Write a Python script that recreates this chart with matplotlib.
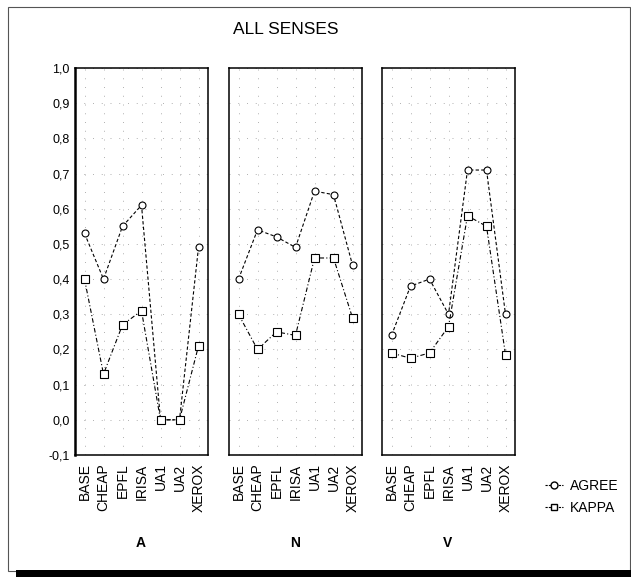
#! /usr/bin/env python3
import matplotlib
matplotlib.use('Agg')
import matplotlib.pyplot as plt
from matplotlib.lines import Line2D
from matplotlib.patches import Rectangle

categories = ['BASE', 'CHEAP', 'EPFL', 'IRISA', 'UA1', 'UA2', 'XEROX']
panels = ['A', 'N', 'V']
agree = {
    'A': [0.53, 0.40, 0.55, 0.61, 0.00, 0.00, 0.49],
    'N': [0.40, 0.54, 0.52, 0.49, 0.65, 0.64, 0.44],
    'V': [0.24, 0.38, 0.40, 0.30, 0.71, 0.71, 0.30],
}
kappa = {
    'A': [0.40, 0.13, 0.27, 0.31, 0.00, 0.00, 0.21],
    'N': [0.30, 0.20, 0.25, 0.24, 0.46, 0.46, 0.29],
    'V': [0.19, 0.175, 0.19, 0.265, 0.58, 0.55, 0.185],
}
yticks = [-0.1, 0.0, 0.1, 0.2, 0.3, 0.4, 0.5, 0.6, 0.7, 0.8, 0.9, 1.0]

NARROW = ['Liberation Sans Narrow', 'Liberation Sans', 'DejaVu Sans']
WIDE = ['Liberation Sans', 'DejaVu Sans']

W, H = 631, 577
fig = plt.figure(figsize=(W / 100, H / 100), dpi=100)


def fx(px):
    return px / W


def fy(py):
    return 1 - py / H


# outer frame and black bar at the bottom
fig.patches.append(Rectangle((fx(8), fy(571)), fx(622), 564 / H,
                             transform=fig.transFigure, fill=False,
                             edgecolor='#555555', linewidth=0.8))
fig.patches.append(Rectangle((fx(16), 0), 1 - fx(16), 7 / H,
                             transform=fig.transFigure, facecolor='black',
                             edgecolor='none'))

fig.text(fx(286), fy(30), 'ALL SENSES', ha='center', va='center',
         fontsize=12.5, family=NARROW)

lefts = [75, 229, 382]
xs = range(len(categories))
for i, (name, left) in enumerate(zip(panels, lefts)):
    ax = fig.add_axes([fx(left), fy(455), fx(133), 387 / H])
    ax.set_xlim(-0.5, len(categories) - 0.5)
    ax.set_ylim(-0.1, 1.0)
    ax.grid(True, color='#b0b0b0', linestyle=(0, (1, 8)), linewidth=0.7)
    ax.plot(xs, agree[name], color='black', linewidth=0.8,
            linestyle=(0, (3, 2)), marker='o', markersize=5,
            markerfacecolor='white', markeredgecolor='black',
            markeredgewidth=0.8)
    ax.plot(xs, kappa[name], color='black', linewidth=0.8,
            linestyle=(0, (4, 2, 1, 2)), marker='s', markersize=5.5,
            markerfacecolor='white', markeredgecolor='black',
            markeredgewidth=0.8)
    ax.set_xticks(list(xs))
    ax.set_xticklabels(categories, rotation=90, fontsize=10, family=WIDE)
    ax.set_yticks(yticks)
    if i == 0:
        ax.set_yticklabels([f'{v:.1f}'.replace('.', ',') for v in yticks],
                           fontsize=9, family=NARROW)
    else:
        ax.set_yticklabels([])
    ax.tick_params(length=0, pad=6)
    ax.tick_params(axis='y', pad=4)
    for s in ax.spines.values():
        s.set_linewidth(1.1)
    if i == 0:
        ax.spines['left'].set_linewidth(1.8)
    fig.text(fx(left + 66), fy(543), name, ha='center', va='center',
             fontsize=10, fontweight='bold', family=NARROW)

handles = [
    Line2D([], [], color='black', linewidth=0.8, linestyle=(0, (2, 1)),
           marker='o', markersize=5, markerfacecolor='white'),
    Line2D([], [], color='black', linewidth=0.8, linestyle=(0, (2, 1)),
           marker='s', markersize=5, markerfacecolor='white'),
]
fig.legend(handles, ['AGREE', 'KAPPA'], loc='center left',
           bbox_to_anchor=(fx(532), fy(497)), frameon=False,
           handlelength=1.3, handletextpad=0.5, labelspacing=0.6,
           prop={'family': NARROW, 'size': 10})

fig.savefig('out.png', dpi=100)
